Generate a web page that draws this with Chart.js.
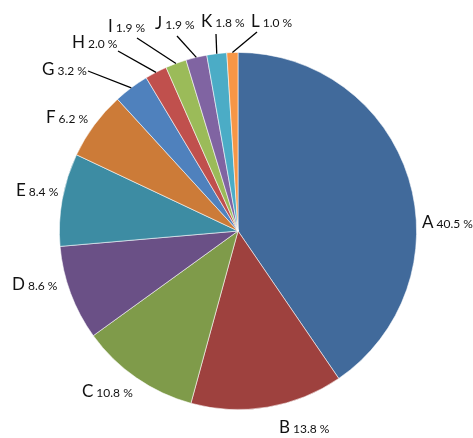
<!DOCTYPE html>
<html>
<head>
<meta charset="utf-8">
<script src="https://cdn.jsdelivr.net/npm/chart.js@4/dist/chart.umd.min.js"></script>
<style>
  html, body { margin: 0; padding: 0; background: #fff; }
  canvas { display: block; }
</style>
</head>
<body>
<canvas id="myChart" width="473" height="438"></canvas>
<script>
var labels = ['A', 'B', 'C', 'D', 'E', 'F', 'G', 'H', 'I', 'J', 'K', 'L'];
var values = [40.5, 13.8, 10.8, 8.6, 8.4, 6.2, 3.2, 2.0, 1.9, 1.9, 1.8, 1.0];
var colorHex = ['#416A9B', '#9E413E', '#7F9B4A', '#6A5086', '#3D8CA3', '#CC7B38',
  '#4F81BD', '#C0504D', '#9BBB59', '#8064A2', '#4BACC6', '#F79646'];

// where each label sits (left edge / baseline), relative to the pie centre,
// plus where its leader line ends (null = no leader)
var labelSpots = [
  { x: 184, y: -3, lead: null },
  { x: 41, y: 202, lead: null },
  { x: -156, y: 166, lead: null },
  { x: -226, y: 59, lead: null },
  { x: -222, y: -35, lead: null },
  { x: -192, y: -108, lead: null },
  { x: -196, y: -156, lead: [-150, -160] },
  { x: -166, y: -183, lead: [-120, -180] },
  { x: -130, y: -199, lead: [-101, -193] },
  { x: -83, y: -202, lead: [-61, -195] },
  { x: -37, y: -204, lead: [-22, -197] },
  { x: 13, y: -204, lead: [19, -199] }
];

var fontFam = 'Lato, "Open Sans", sans-serif';

var pieLabels = {
  id: 'pieLabels',
  afterDatasetsDraw: function (chart) {
    var ctx = chart.ctx;
    var meta = chart.getDatasetMeta(0);
    ctx.save();
    meta.data.forEach(function (arc, i) {
      var p = arc.getProps(['x', 'y', 'startAngle', 'endAngle', 'outerRadius'], true);
      var spot = labelSpots[i];
      var lx = p.x + spot.x, ly = p.y + spot.y;

      if (spot.lead) {
        var mid = (p.startAngle + p.endAngle) / 2;
        ctx.beginPath();
        ctx.moveTo(p.x + Math.cos(mid) * p.outerRadius, p.y + Math.sin(mid) * p.outerRadius);
        ctx.lineTo(p.x + spot.lead[0], p.y + spot.lead[1]);
        ctx.strokeStyle = '#000';
        ctx.lineWidth = 1.3;
        ctx.stroke();
      }

      ctx.fillStyle = '#111';
      ctx.textAlign = 'left';
      ctx.textBaseline = 'alphabetic';
      ctx.font = '17px ' + fontFam;
      ctx.fillText(labels[i], lx, ly);
      var w = ctx.measureText(labels[i]).width;
      ctx.font = '12px ' + fontFam;
      ctx.fillText(values[i].toFixed(1) + ' %', lx + w + 3, ly);
    });
    ctx.restore();
  }
};

var ctx = document.getElementById('myChart').getContext('2d');
var myChart = new Chart(ctx, {
  type: 'pie',
  data: {
    labels: labels,
    datasets: [{
      data: values,
      backgroundColor: colorHex,
      borderColor: 'rgba(255,255,255,0.7)',
      borderWidth: 0.8
    }]
  },
  options: {
    responsive: false,
    animation: false,
    layout: { padding: { left: 59, right: 56, top: 52, bottom: 28 } },
    plugins: {
      legend: { display: false },
      tooltip: { enabled: false }
    }
  },
  plugins: [pieLabels]
});
</script>
</body>
</html>
